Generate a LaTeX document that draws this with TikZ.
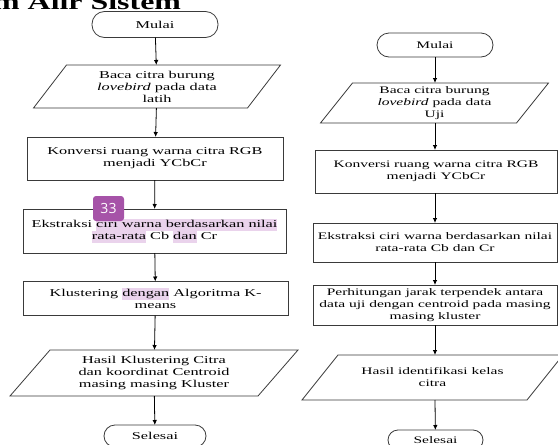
\documentclass[tikz,border=0pt]{standalone}
\usepackage{fontspec}
\setmainfont[FakeStretch=1.55]{Liberation Serif}
\newfontfamily\headfont[FakeStretch=1.45]{Liberation Serif}
\newfontfamily\badgefont{Open Sans}
\usetikzlibrary{arrows.meta}
\definecolor{hlpurple}{HTML}{EAD3EC}
\definecolor{badgepurple}{HTML}{A653A8}
\definecolor{edgegray}{HTML}{3A3A3A}
\newcommand{\hlt}[1]{{\setlength{\fboxsep}{0pt}\colorbox{hlpurple}{\strut #1}}}
\begin{document}
\begin{tikzpicture}[x=1pt,y=-1pt,
  every node/.style={inner sep=0pt, outer sep=0pt},
  txtL/.style={font=\fontsize{10.5}{12}\selectfont, align=center},
  txtR/.style={font=\fontsize{10}{12}\selectfont, align=center},
  termbox/.style={draw=edgegray, line width=0.8pt, rounded corners=12.5pt},
  procbox/.style={draw=edgegray, line width=0.8pt},
  iobox/.style={},
  iodraw/.style={draw=edgegray, line width=0.8pt},
  flow/.style={draw=black, line width=0.8pt, -{Latex[length=5pt,width=4.5pt]}},
  badge/.style={fill=badgepurple, rounded corners=3pt, text=white,
    font=\badgefont\fontsize{14}{14}\selectfont, minimum width=31pt, minimum height=25pt}
]
\useasboundingbox (0,0) rectangle (558,445);
\clip (0,0) rectangle (558,445);

% heading (clipped at the top of the picture)
\node[anchor=base east, font=\headfont\bfseries\fontsize{22}{22}\selectfont] (head) at (181,9.5) {am Alir Sistem};

% ---------- left column ----------
\node[termbox, txtL, minimum width=126pt, minimum height=26pt] (L0) at (155,24.5) {Mulai};
\node[iobox, txtL, minimum width=214pt, minimum height=43pt] (L1) at (157,86.5)
  {Baca citra burung\\ \textit{lovebird} pada data\\ latih};
\node[procbox, txtL, minimum width=256pt, minimum height=43pt] (L2) at (155,158.5)
  {Konversi ruang warna citra RGB\\ menjadi YCbCr};
\node[procbox, txtL, minimum width=263pt, minimum height=44pt] (L3) at (154.5,231)
  {Ekstraksi \hlt{ciri warna berdasarkan nilai}\\ \hlt{rata-rata} Cb \hlt{dan} Cr};
\node[procbox, txtL, minimum width=265pt, minimum height=34pt] (L4) at (155.5,298.5)
  {Klustering \hlt{dengan} Algoritma K-\\ means};
\node[iobox, txtL, minimum width=248pt, minimum height=46pt] (L5) at (154,373)
  {Hasil Klustering Citra\\ dan koordinat Centroid\\ masing masing Kluster};
\node[termbox, txtL, rounded corners=11pt, minimum width=102pt, minimum height=22pt] (L6) at (155,436) {Selesai};

\draw[iodraw] ([xshift=16.5pt]L1.north west) -- ([xshift=16.5pt]L1.north east)
  -- ([xshift=-16.5pt]L1.south east) -- ([xshift=-16.5pt]L1.south west) -- cycle;
\draw[iodraw] ([xshift=20pt]L5.north west) -- ([xshift=20pt]L5.north east)
  -- ([xshift=-20pt]L5.south east) -- ([xshift=-20pt]L5.south west) -- cycle;

\draw[flow] (L0) -- (L1);
\draw[flow] (L1) -- (L2);
\draw[flow] (L2) -- (L3);
\draw[flow] (L3) -- (L4);
\draw[flow] (L4) -- (L5);
\draw[flow] (L5) -- (L6);

\node[badge] (B) at (108.5,208.5) {33};

% ---------- right column ----------
\node[termbox, txtR, rounded corners=12pt, minimum width=116pt, minimum height=24pt] (R0) at (435,45) {Mulai};
\node[iobox, txtR, minimum width=196pt, minimum height=40pt] (R1) at (434.5,103)
  {Baca citra burung\\ \textit{lovebird} pada data\\ Uji};
\node[procbox, txtR, minimum width=242pt, minimum height=43pt] (R2) at (436,171.5)
  {Konversi ruang warna citra RGB\\ menjadi YCbCr};
\node[procbox, txtR, minimum width=244pt, minimum height=39pt] (R3) at (435,242.5)
  {Ekstraksi ciri warna berdasarkan nilai\\ rata-rata Cb dan Cr};
\node[procbox, txtR, minimum width=244pt, minimum height=40pt] (R4) at (435,305)
  {Perhitungan jarak terpendek antara\\ data uji dengan centroid pada masing\\ masing kluster};
\node[iobox, txtR, minimum width=225pt, minimum height=45pt] (R5) at (432.5,377.5)
  {Hasil identifikasi kelas\\ citra};
\node[termbox, txtR, rounded corners=10pt, minimum width=95pt, minimum height=20pt] (R6) at (435.5,440) {Selesai};

\draw[iodraw] ([xshift=16pt]R1.north west) -- ([xshift=16pt]R1.north east)
  -- ([xshift=-16pt]R1.south east) -- ([xshift=-16pt]R1.south west) -- cycle;
\draw[iodraw] ([xshift=18pt]R5.north west) -- ([xshift=18pt]R5.north east)
  -- ([xshift=-18pt]R5.south east) -- ([xshift=-18pt]R5.south west) -- cycle;

\draw[flow] (R0) -- (R0 |- R1.north);
\draw[flow] (R1.south -| R0) -- (R0 |- R2.north);
\draw[flow] (R0 |- R2.south) -- (R0 |- R3.north);
\draw[flow] (R0 |- R3.south) -- (R0 |- R4.north);
\draw[flow] (R0 |- R4.south) -- (R0 |- R5.north);
\draw[flow] (R0 |- R5.south) -- (R6);
\end{tikzpicture}
\end{document}
